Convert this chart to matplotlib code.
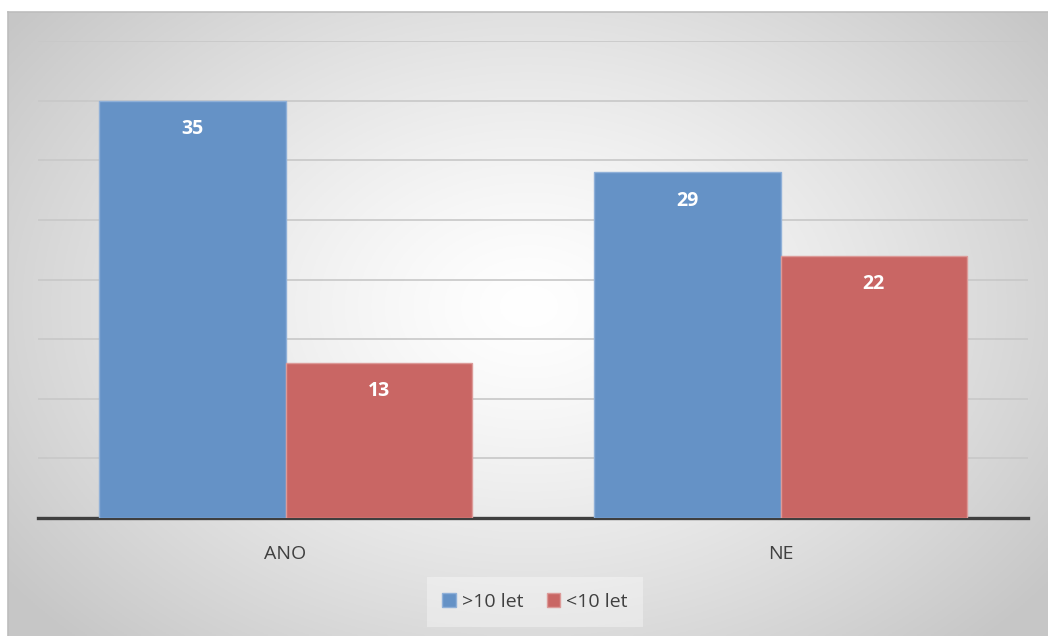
import numpy as np
import matplotlib
matplotlib.use("Agg")
import matplotlib.pyplot as plt

categories = ["ANO", "NE"]
series_names = [">10 let", "<10 let"]
over10 = [35, 29]
under10 = [13, 22]
colors = ["#6592C6", "#C96664"]

plt.rcParams['font.family'] = ['Open Sans', 'DejaVu Sans']

W, H = 1048, 636
fig = plt.figure(figsize=(W / 100, H / 100), dpi=100)
fig.patch.set_facecolor("white")

# background radial gradient panel
bx0, by0 = 8, 12
bg = fig.add_axes([bx0 / W, 0, (W - bx0) / W, (H - by0) / H])
bg.set_axis_off()
ny, nx = 300, 500
yy, xx = np.mgrid[0:ny, 0:nx]
cx, cy = 0.5 * nx, 0.47 * ny
r = np.sqrt(((xx - cx) / (0.62 * nx)) ** 2 + ((yy - cy) / (0.62 * ny * 1.2)) ** 2)
r = np.clip(r, 0, 1)
val = 1.0 - 0.22 * r ** 1.3
img = np.dstack([val, val, val])
bg.imshow(img, extent=[0, 1, 0, 1], aspect="auto", origin="upper")
bg.set_xlim(0, 1)
bg.set_ylim(0, 1)
bg.plot([0, 1], [1, 1], color="#BDBDBD", lw=1.2, transform=bg.transAxes, clip_on=False)
bg.plot([0, 0], [0, 1], color="#BDBDBD", lw=1.2, transform=bg.transAxes, clip_on=False)

left, right, base, top = 38, 1028, 518, 41
ax = fig.add_axes([left / W, (H - base) / H, (right - left) / W, (base - top) / H])
ax.set_facecolor("none")
ax.set_xlim(-0.5, 1.5)
ax.set_ylim(0, 40)
for s in ["top", "right", "left"]:
    ax.spines[s].set_visible(False)
ax.spines["bottom"].set_color("#3F3F3F")
ax.spines["bottom"].set_linewidth(2.4)
ax.set_yticks(np.arange(5, 45, 5))
ax.yaxis.grid(True, color="#C8C8C8", lw=1.2)
ax.set_axisbelow(True)
ax.tick_params(axis="y", left=False, labelleft=False)
ax.tick_params(axis="x", bottom=False, labelsize=14, labelcolor="#404040", pad=16)

x = np.arange(len(categories))
bw = 0.376
b1 = ax.bar(x - bw / 2, over10, bw, color=colors[0], edgecolor="#8FB0D8", lw=1.0, label=series_names[0], zorder=3)
b2 = ax.bar(x + bw / 2, under10, bw, color=colors[1], edgecolor="#DC9A98", lw=1.0, label=series_names[1], zorder=3)
ax.set_xticks(x)
ax.set_xticklabels(categories)

for bars, vals in [(b1, over10), (b2, under10)]:
    for b, v in zip(bars, vals):
        ax.annotate(str(v), (b.get_x() + b.get_width() / 2, v), xytext=(0, -20.5),
                    textcoords="offset points", ha="center", va="center",
                    color="white", fontsize=14, fontweight="bold", zorder=4)

leg = fig.legend(handles=[b1, b2], labels=series_names, loc="center",
                 bbox_to_anchor=(535 / W, (H - 602) / H), ncol=2, frameon=True,
                 fontsize=14, handlelength=0.7, handleheight=0.7, handletextpad=0.3,
                 columnspacing=1.2, labelcolor="#404040", borderpad=0.5)
leg.get_frame().set_facecolor("white")
leg.get_frame().set_alpha(0.35)
leg.get_frame().set_edgecolor("none")
leg.get_frame().set_boxstyle("square")

fig.savefig("out.png", dpi=100)
